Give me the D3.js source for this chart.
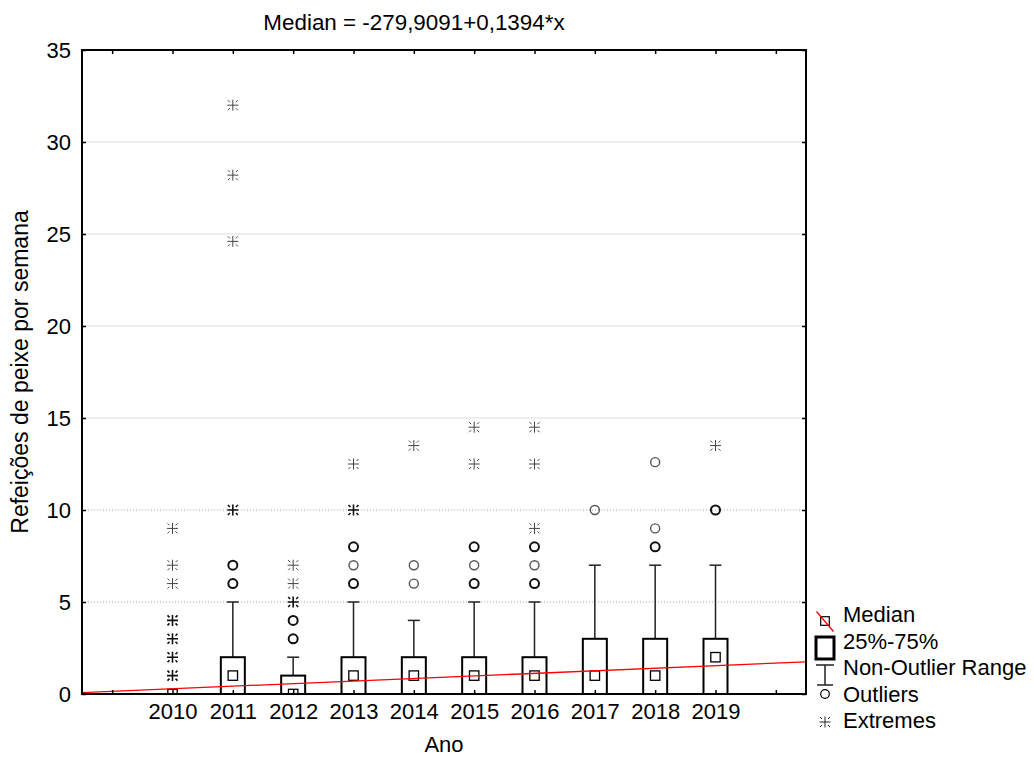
<html>
<script src="https://cdn.jsdelivr.net/npm/d3@7"></script>
<style>
    body { margin: 0; background: #fff; }
    text { font-family: "Liberation Sans", Arial, sans-serif; fill: #000; }
</style>
<body>
<svg id="chart" width="1034" height="758"></svg>
<script>

// data
var years = [2010, 2011, 2012, 2013, 2014, 2015, 2016, 2017, 2018, 2019];
var medians = [0, 1, 0, 1, 1, 1, 1, 1, 1, 2];
var q1 = [0, 0, 0, 0, 0, 0, 0, 0, 0, 0];
var q3 = [0, 2, 1, 2, 2, 2, 2, 3, 3, 3];
var whiskerLow = [0, 0, 0, 0, 0, 0, 0, 0, 0, 0];
var whiskerHigh = [0, 5, 2, 5, 4, 5, 5, 7, 7, 7];
// outliers and extremes per year, with the number of overlapping cases
var outliers = [[], [6, 7], [3, 4], [6, 7, 8], [6, 7], [6, 7, 8], [6, 7, 8], [10], [8, 9, 12.6], [10]];
var outlierCounts = [[], [2, 2], [2, 2], [2, 1, 2], [1, 1], [2, 1, 2], [2, 1, 2], [1], [2, 1, 1], [2]];
var extremes = [[1, 2, 3, 4, 6, 7, 9], [10, 24.6, 28.2, 32], [5, 6, 7], [10, 12.5], [13.5], [12.5, 14.5], [9, 12.5, 14.5], [], [], [13.5]];
var extremeCounts = [[2, 2, 2, 2, 1, 1, 1], [2, 1, 1, 1], [2, 1, 1], [2, 1], [1], [1, 1], [1, 1, 1], [], [], [1]];
var xTicks = [2009, 2010, 2011, 2012, 2013, 2014, 2015, 2016, 2017, 2018, 2019, 2020];
var yTicks = [0, 5, 10, 15, 20, 25, 30, 35];
var fitIntercept = -279.9091;
var fitSlope = 0.1394;
var legendLabels = ["Median", "25%-75%", "Non-Outlier Range", "Outliers", "Extremes"];

var plotL = 82, plotR = 806, plotT = 50, plotB = 694;
var boxHalf = 12, capHalf = 6;

var x = d3.scaleLinear().domain([2008.5, 2020.5]).range([plotL, plotR]);
var y = d3.scaleLinear().domain([0, 35]).range([plotB, plotT]);

var svg = d3.select("#chart");

svg.append("defs").append("clipPath").attr("id", "plot")
    .append("rect")
    .attr("x", plotL).attr("y", plotT)
    .attr("width", plotR - plotL).attr("height", plotB - plotT);

// grid
svg.append("g").selectAll("line")
    .data(yTicks.filter(function(d) { return d > 0 && d < 35; }))
    .enter().append("line")
    .attr("x1", plotL).attr("x2", plotR)
    .attr("y1", function(d) { return y(d); })
    .attr("y2", function(d) { return y(d); })
    .attr("stroke", function(d) { return d <= 10 ? "#aaa" : "#ddd"; })
    .attr("stroke-width", 1)
    .attr("stroke-dasharray", function(d) { return d <= 10 ? "1,2" : null; });

var marks = svg.append("g").attr("clip-path", "url(#plot)");

var stats = years.map(function(yr, i) {
    return { year: yr, med: medians[i], q1: q1[i], q3: q3[i], lo: whiskerLow[i], hi: whiskerHigh[i] };
});

// whiskers
var wh = marks.selectAll(".whisker").data(stats).enter().append("g")
    .attr("stroke", "#222").attr("stroke-width", 1.5);
wh.append("line")
    .attr("x1", function(d) { return x(d.year); })
    .attr("x2", function(d) { return x(d.year); })
    .attr("y1", function(d) { return y(d.q3); })
    .attr("y2", function(d) { return y(d.hi); });
wh.append("line")
    .attr("x1", function(d) { return x(d.year) - capHalf; })
    .attr("x2", function(d) { return x(d.year) + capHalf; })
    .attr("y1", function(d) { return y(d.hi); })
    .attr("y2", function(d) { return y(d.hi); });

// boxes
marks.selectAll(".box").data(stats.filter(function(d) { return d.q3 > d.q1; }))
    .enter().append("rect")
    .attr("x", function(d) { return x(d.year) - boxHalf; })
    .attr("width", boxHalf * 2)
    .attr("y", function(d) { return y(d.q3); })
    .attr("height", function(d) { return y(d.q1) - y(d.q3); })
    .attr("fill", "#fff")
    .attr("stroke", "#000")
    .attr("stroke-width", 2);

// median squares
marks.selectAll(".med").data(stats).enter().append("rect")
    .attr("x", function(d) { return x(d.year) - 4.7; })
    .attr("y", function(d) { return y(d.med) - 4.7; })
    .attr("width", 9.4).attr("height", 9.4)
    .attr("fill", "#fff")
    .attr("stroke", "#000")
    .attr("stroke-width", 1.3);

var outPts = [], extPts = [];
years.forEach(function(yr, i) {
    outliers[i].forEach(function(v, j) { outPts.push({ year: yr, v: v, n: outlierCounts[i][j] }); });
    extremes[i].forEach(function(v, j) { extPts.push({ year: yr, v: v, n: extremeCounts[i][j] }); });
});

marks.selectAll(".out").data(outPts).enter().append("circle")
    .attr("cx", function(d) { return x(d.year); })
    .attr("cy", function(d) { return y(d.v); })
    .attr("r", 4.5)
    .attr("fill", "none")
    .attr("stroke", function(d) { return d.n > 1 ? "#111" : "#555"; })
    .attr("stroke-width", function(d) { return d.n > 1 ? 2 : 1.4; });

var star = "M-5.5,0H5.5M0,-5.5V5.5M-5,-5L-3,-3M5,-5L3,-3M-5,5L-3,3M5,5L3,3";

marks.selectAll(".ext").data(extPts).enter().append("path")
    .attr("d", star)
    .attr("transform", function(d) { return "translate(" + x(d.year) + "," + y(d.v) + ")"; })
    .attr("fill", "none")
    .attr("stroke", function(d) { return d.n > 1 ? "#111" : "#444"; })
    .attr("stroke-width", function(d) { return d.n > 1 ? 1.6 : 1; });

// fitted median line
var xd = x.domain();
marks.append("line")
    .attr("x1", x(xd[0])).attr("y1", y(fitIntercept + fitSlope * xd[0]))
    .attr("x2", x(xd[1])).attr("y2", y(fitIntercept + fitSlope * xd[1]))
    .attr("stroke", "#f00")
    .attr("stroke-width", 1.3);

// axes, ticks pointing inward
var axisFont = function(g) {
    g.select(".domain").remove();
    g.selectAll(".tick line").attr("stroke", "#000").attr("stroke-width", 1.5);
    g.selectAll("text").style("font-size", "22px").attr("fill", "#000");
};

svg.append("g").attr("transform", "translate(" + plotL + ",0)")
    .call(d3.axisLeft(y).tickValues(yTicks).tickSize(-4).tickPadding(11))
    .call(axisFont);
svg.append("g").attr("transform", "translate(" + plotR + ",0)")
    .call(d3.axisRight(y).tickValues(yTicks).tickSize(-4).tickFormat(""))
    .call(axisFont);
svg.append("g").attr("transform", "translate(0," + plotB + ")")
    .call(d3.axisBottom(x).tickValues(xTicks).tickSize(-4).tickPadding(9)
        .tickFormat(function(d) { return years.indexOf(d) >= 0 ? d : ""; }))
    .call(axisFont);
svg.append("g").attr("transform", "translate(0," + plotT + ")")
    .call(d3.axisTop(x).tickValues(xTicks).tickSize(-4).tickFormat(""))
    .call(axisFont);

svg.append("rect")
    .attr("x", plotL).attr("y", plotT)
    .attr("width", plotR - plotL).attr("height", plotB - plotT)
    .attr("fill", "none").attr("stroke", "#000").attr("stroke-width", 2);

// titles
svg.append("text").attr("x", 414).attr("y", 30).attr("text-anchor", "middle")
    .style("font-size", "22.4px")
    .text("Median = -279,9091+0,1394*x");
svg.append("text").attr("x", (plotL + plotR) / 2).attr("y", 752).attr("text-anchor", "middle")
    .style("font-size", "22px")
    .text("Ano");
svg.append("text").attr("transform", "translate(28," + ((plotT + plotB) / 2) + ") rotate(-90)")
    .attr("text-anchor", "middle")
    .style("font-size", "23px")
    .text("Refeições de peixe por semana");

// legend
var lg = svg.append("g");
var lx = 825, ly0 = 621, lstep = 26.6;
lg.selectAll("text").data(legendLabels).enter().append("text")
    .attr("x", 843)
    .attr("y", function(d, i) { return ly0 + 1 + i * lstep; })
    .style("font-size", "22px")
    .text(function(d) { return d; });

lg.append("rect").attr("x", lx - 4.3).attr("y", ly0 - 4.3).attr("width", 8.6).attr("height", 8.6)
    .attr("fill", "#fff").attr("stroke", "#000").attr("stroke-width", 1.2);
lg.append("line").attr("x1", lx - 8.5).attr("y1", ly0 - 9.5).attr("x2", lx + 8.5).attr("y2", ly0 + 10.5)
    .attr("stroke", "#f00").attr("stroke-width", 1.3);
lg.append("rect").attr("x", lx - 9).attr("y", 637).attr("width", 18).attr("height", 22)
    .attr("fill", "#fff").attr("stroke", "#000").attr("stroke-width", 3);
lg.append("path").attr("d", "M" + (lx - 9) + ",665H" + (lx + 9) + "M" + lx + ",665V685M" + (lx - 8) + ",685H" + (lx + 8))
    .attr("fill", "none").attr("stroke", "#222").attr("stroke-width", 1.5);
lg.append("circle").attr("cx", lx).attr("cy", 694).attr("r", 4.3)
    .attr("fill", "#fff").attr("stroke", "#000").attr("stroke-width", 1.2);
lg.append("path").attr("d", star).attr("transform", "translate(" + lx + ",722)")
    .attr("fill", "none").attr("stroke", "#222").attr("stroke-width", 1);

</script>
</body>
</html>
